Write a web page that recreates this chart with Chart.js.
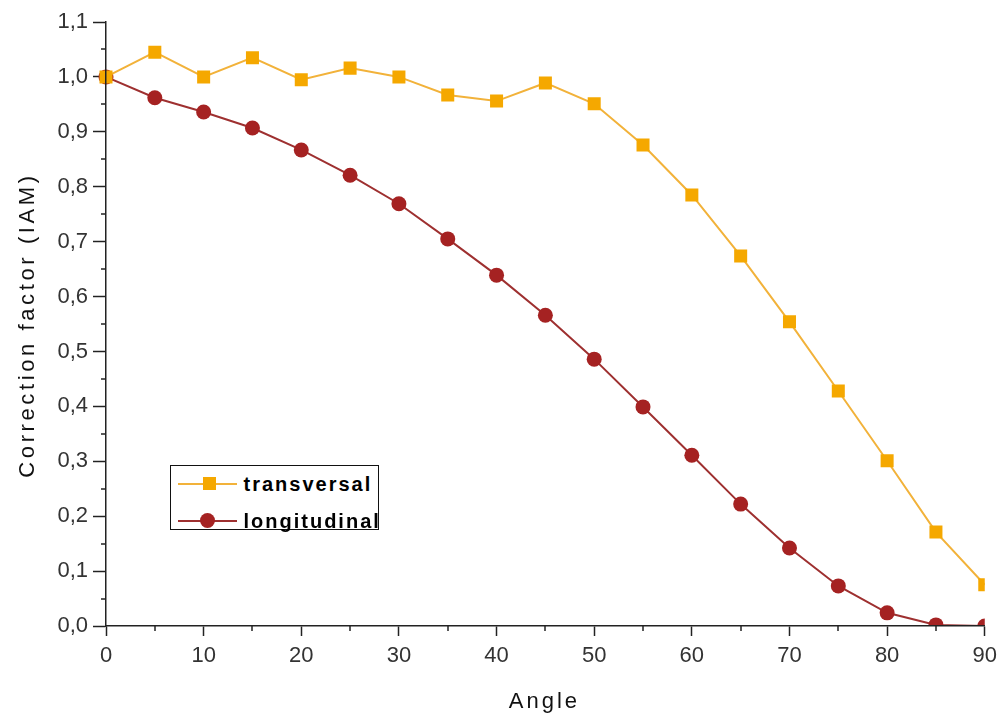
<!DOCTYPE html>
<html><head><meta charset="utf-8">
<script src="https://cdn.jsdelivr.net/npm/chart.js@4.4.1/dist/chart.umd.min.js"></script>
<style>
html,body{margin:0;padding:0;background:#fff;}
#wrap{position:relative;width:1004px;height:713px;}
#legend{position:absolute;left:170px;top:465px;width:207px;height:63px;border:1.5px solid #111;background:#fff;font-family:"Liberation Sans",Arial,sans-serif;font-size:20px;font-weight:bold;letter-spacing:2px;color:#000;}
.row{position:absolute;left:0;height:20px;width:100%;}
.ln{position:absolute;left:6.5px;width:59px;top:9px;height:2px;}
.mk{position:absolute;}
.tx{position:absolute;left:72.5px;top:-1px;line-height:22px;}
</style></head>
<body><div id="wrap"><canvas id="c" width="1004" height="713"></canvas>
<div id="legend">
 <div class="row" style="top:7.5px"><div class="ln" style="background:#F2B23A"></div><div class="mk" style="left:31.5px;top:3.5px;width:13px;height:13px;background:#F5A800"></div><div class="tx">transversal</div></div>
 <div class="row" style="top:44.5px"><div class="ln" style="background:#9E3030"></div><div class="mk" style="left:28.5px;top:2.5px;width:15px;height:15px;border-radius:50%;background:#A52222"></div><div class="tx">longitudinal</div></div>
</div></div>
<script>
const angles = [0,5,10,15,20,25,30,35,40,45,50,55,60,65,70,75,80,85,90];
const transversal = [1.0,1.045,1.0,1.035,0.995,1.016,1.0,0.967,0.956,0.989,0.951,0.876,0.785,0.674,0.554,0.428,0.301,0.171,0.075];
const longitudinal = [1.0,0.962,0.936,0.907,0.867,0.821,0.769,0.705,0.639,0.566,0.486,0.399,0.311,0.222,0.142,0.073,0.024,0.002,0.0];
const xTitle = "Angle";
const yTitle = "Correction factor (IAM)";

const FONT = "'Liberation Sans', Arial, sans-serif";

const extras = {
  id:'extras',
  afterDraw(chart){
    const ctx = chart.ctx, xs = chart.scales.x, ys = chart.scales.y;
    ctx.save(); ctx.strokeStyle='#222'; ctx.lineWidth=1.5;
    for(let v=5; v<90; v+=10){ const px=Math.round(xs.getPixelForValue(v)); ctx.beginPath(); ctx.moveTo(px, ys.bottom); ctx.lineTo(px, ys.bottom+5); ctx.stroke(); }
    for(let i=0;i<11;i++){ const v=i*0.1+0.05; const py=Math.round(ys.getPixelForValue(v)); ctx.beginPath(); ctx.moveTo(xs.left, py); ctx.lineTo(xs.left-5, py); ctx.stroke(); }
    // axis titles
    ctx.fillStyle='#111';
    ctx.font = "22px " + FONT;
    ctx.letterSpacing = '3px';
    ctx.textAlign='center'; ctx.textBaseline='alphabetic';
    ctx.fillText(xTitle, (xs.left+xs.right)/2 - 1, 708);
    ctx.letterSpacing = '3.6px';
    ctx.translate(34, (ys.top+ys.bottom)/2 + 1);
    ctx.rotate(-Math.PI/2);
    ctx.fillText(yTitle, 0, 0);
    ctx.restore();
  }
};

new Chart(document.getElementById('c'), {
  type:'line',
  data:{ datasets:[
    { label:'transversal', data: angles.map((a,i)=>({x:a,y:transversal[i]})), borderColor:'#F2B23A', backgroundColor:'#F5A800', borderWidth:2, pointStyle:'rect', pointRadius:9.2, pointBorderWidth:0, pointBackgroundColor:'#F5A800', tension:0, clip:{left:12,top:12,right:0,bottom:0} },
    { label:'longitudinal', data: angles.map((a,i)=>({x:a,y:longitudinal[i]})), borderColor:'#9E3030', backgroundColor:'#A52222', borderWidth:2, pointStyle:'circle', pointRadius:7.5, pointBorderWidth:0, pointBackgroundColor:'#A52222', tension:0, clip:{left:12,top:12,right:0,bottom:0} }
  ]},
  options:{
    responsive:false, animation:false,
    layout:{ padding:{ left:0, right:19, top:22, bottom:0 } },
    plugins:{ legend:{display:false}, tooltip:{enabled:false} },
    scales:{
      x:{ type:'linear', min:0, max:90,
        afterFit(s){ s.height = 87; },
        border:{ color:'#222', width:1.5, z:1 },
        grid:{ drawOnChartArea:false, drawTicks:true, tickLength:10, color:'#222', tickWidth:1.5 },
        ticks:{ stepSize:10, color:'#333', font:{family:FONT, size:22}, padding:7, maxRotation:0 },
        title:{ display:false }
      },
      y:{ type:'linear', min:0, max:1.1,
        afterFit(s){ s.width = 106; },
        border:{ color:'#222', width:1.5, z:1 },
        grid:{ drawOnChartArea:false, drawTicks:true, tickLength:13, color:'#222', tickWidth:1.5 },
        ticks:{ stepSize:0.1, color:'#333', font:{family:FONT, size:22}, padding:5, callback:v=>v.toFixed(1).replace('.',',') },
        title:{ display:false }
      }
    }
  },
  plugins:[extras]
});
</script></body></html>
